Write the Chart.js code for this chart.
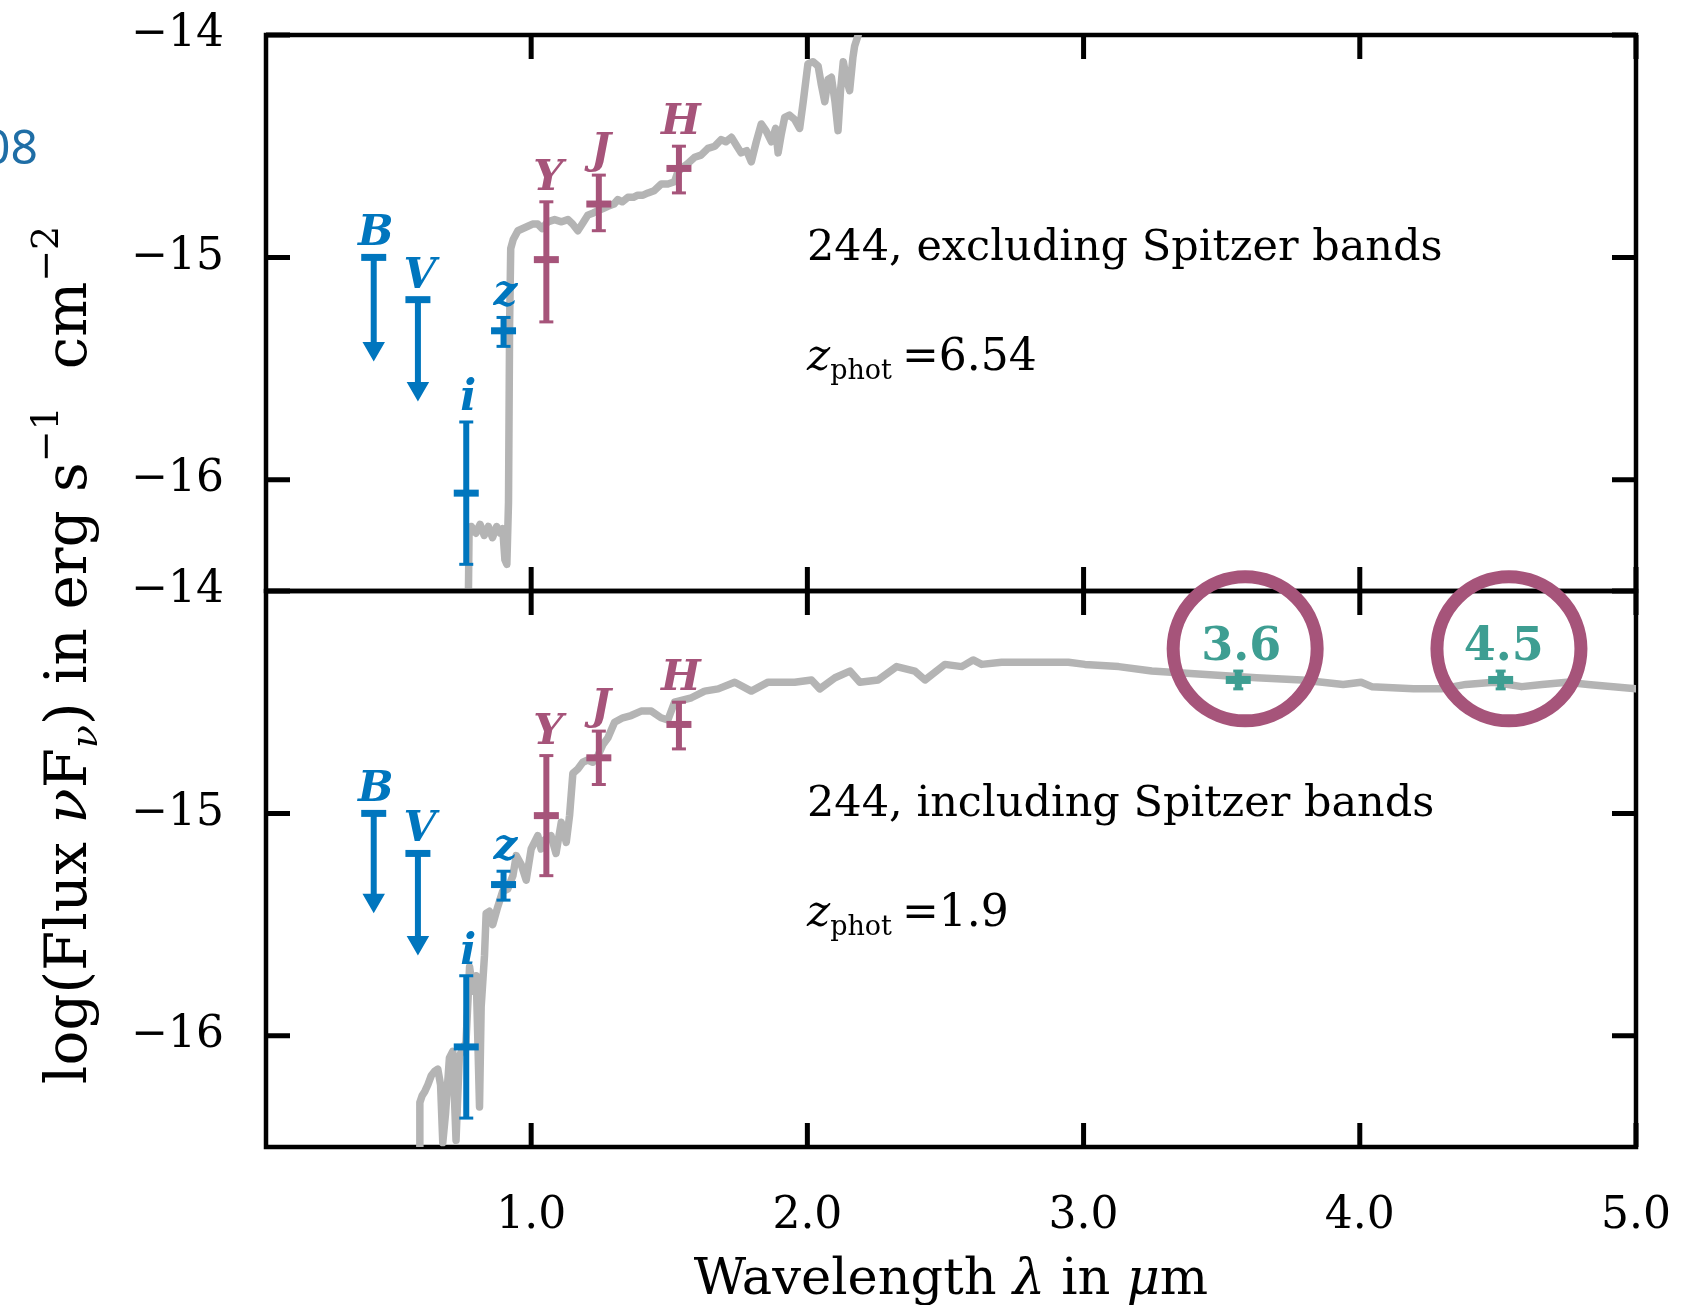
<!DOCTYPE html>
<html>
<head>
<meta charset="utf-8">
<title>SED fits of object 244</title>
<script src="https://cdn.jsdelivr.net/npm/chart.js@4.4.1/dist/chart.umd.min.js"></script>
<style>
  body { margin: 0; background: #fff; }
  #wrap { position: relative; width: 1695px; height: 1305px; overflow: hidden; background: #fff; }
  #wrap canvas { position: absolute; left: 0; top: 0; }
</style>
</head>
<body>
<div id="wrap">
  <canvas id="topPanel" width="1695" height="1305"></canvas>
  <canvas id="bottomPanel" width="1695" height="1305"></canvas>
</div>
<script>
// Axis ticks
const xTicks = [1, 2, 3, 4, 5];
const yTicks = [-14, -15, -16];

// Ground-based bands (wavelength in micron)
const bandNames = ["B", "V", "i", "z", "Y", "J", "H"];
const bandWave = [0.43, 0.59, 0.765, 0.9, 1.055, 1.245, 1.535];
const bandUpperLimit = [true, true, false, false, false, false, false];

// Upper panel: fit excluding Spitzer bands (low = arrow head for limits)
const topFlux = [-15.0, -15.19, -16.06, -15.33, -15.01, -14.76, -14.6];
const topLow = [-15.41, -15.59, -16.38, -15.4, -15.29, -14.88, -14.71];
const topHigh = [-15.0, -15.19, -15.74, -15.27, -14.75, -14.63, -14.5];

// Lower panel: fit including Spitzer bands
const botFlux = [-15.0, -15.18, -16.05, -15.32, -15.01, -14.75, -14.6];
const botLow = [-15.39, -15.58, -16.37, -15.39, -15.28, -14.87, -14.71];
const botHigh = [-15.0, -15.18, -15.73, -15.26, -14.74, -14.63, -14.5];

// Spitzer IRAC points
const iracNames = ["3.6", "4.5"];
const iracWave = [3.56, 4.51];
const iracFlux = [-14.4, -14.4];
const iracErr = [0.04, 0.04];
const circleWave = [3.585, 4.54];
const circleFlux = [-14.26, -14.26];

const panelTitles = ["244, excluding Spitzer bands", "244, including Spitzer bands"];
const zPhot = ["6.54", "1.9"];

// Best-fit template, z = 6.54
const specTopWave = [0.771, 0.775, 0.783, 0.8, 0.815, 0.83, 0.845, 0.86, 0.875, 0.888,
  0.897, 0.905, 0.912, 0.918, 0.922, 0.926, 0.935, 0.952, 0.97, 0.988,
  1.005, 1.024, 1.04, 1.06, 1.085, 1.11, 1.133, 1.15, 1.169, 1.19,
  1.205, 1.225, 1.242, 1.26, 1.278, 1.3, 1.314, 1.33, 1.35, 1.37,
  1.386, 1.405, 1.423, 1.445, 1.471, 1.495, 1.519, 1.53, 1.543, 1.565,
  1.592, 1.615, 1.64, 1.665, 1.688, 1.705, 1.725, 1.745, 1.76, 1.78,
  1.797, 1.815, 1.833, 1.85, 1.87, 1.885, 1.894, 1.905, 1.918, 1.935,
  1.954, 1.972, 1.985, 2.002, 2.02, 2.039, 2.05, 2.063, 2.075, 2.087,
  2.1, 2.111, 2.12, 2.13, 2.142, 2.153, 2.165, 2.171, 2.184, 2.2];
const specTopFlux = [-16.75, -16.25, -16.21, -16.24, -16.2, -16.25, -16.21, -16.26, -16.21, -16.24,
  -16.22, -16.36, -16.38, -16.1, -15.3, -14.96, -14.92, -14.88, -14.87, -14.86,
  -14.85, -14.85, -14.87, -14.84, -14.83, -14.84, -14.83, -14.85, -14.88, -14.84,
  -14.81, -14.8, -14.79, -14.78, -14.77, -14.76, -14.74, -14.75, -14.73, -14.73,
  -14.72, -14.72, -14.71, -14.7, -14.67, -14.67, -14.66, -14.62, -14.6, -14.58,
  -14.55, -14.54, -14.51, -14.5, -14.47, -14.48, -14.46, -14.5, -14.53, -14.52,
  -14.57, -14.48, -14.4, -14.43, -14.48, -14.42, -14.53, -14.45, -14.37, -14.36,
  -14.38, -14.42, -14.3, -14.13, -14.12, -14.14, -14.22, -14.3, -14.2, -14.19,
  -14.3, -14.43, -14.25, -14.12, -14.2, -14.25, -14.1, -14.05, -14.0, -13.9];

// Best-fit template, z = 1.9
const specBotWave = [0.595, 0.597, 0.605, 0.615, 0.626, 0.638, 0.65, 0.662, 0.672, 0.68,
  0.69, 0.704, 0.716, 0.728, 0.74, 0.752, 0.764, 0.777, 0.789, 0.801,
  0.813, 0.819, 0.831, 0.837, 0.849, 0.861, 0.879, 0.897, 0.915, 0.934,
  0.946, 0.964, 0.982, 1.0, 1.024, 1.036, 1.048, 1.072, 1.09, 1.109,
  1.127, 1.139, 1.151, 1.169, 1.187, 1.205, 1.223, 1.242, 1.26, 1.278,
  1.302, 1.332, 1.362, 1.398, 1.435, 1.47, 1.495, 1.519, 1.58, 1.628,
  1.677, 1.737, 1.797, 1.858, 1.954, 2.015, 2.045, 2.1, 2.154, 2.19,
  2.256, 2.323, 2.389, 2.426, 2.498, 2.559, 2.6, 2.631, 2.703, 2.824,
  2.945, 3.005, 3.127, 3.247, 3.373, 3.5, 3.626, 3.79, 3.94, 4.005,
  4.043, 4.194, 4.295, 4.384, 4.485, 4.586, 4.66, 4.75, 4.826, 5.0];
const specBotFlux = [-16.6, -16.3, -16.27, -16.25, -16.22, -16.18, -16.16, -16.15, -16.22, -16.48,
  -16.35, -16.1, -16.07, -16.47, -16.09, -16.06, -16.03, -15.69, -15.8, -15.73,
  -16.32, -15.87, -15.64, -15.45, -15.44, -15.5, -15.42, -15.35, -15.34, -15.28,
  -15.19, -15.23, -15.3, -15.16, -15.1, -15.16, -15.12, -15.1, -15.18, -15.04,
  -15.13, -15.01, -14.82, -14.8, -14.77, -14.76, -14.77, -14.74, -14.69, -14.66,
  -14.59, -14.57, -14.56, -14.54, -14.54, -14.57, -14.58, -14.5, -14.48, -14.45,
  -14.44, -14.41, -14.45, -14.41, -14.41, -14.4, -14.44, -14.39, -14.36, -14.41,
  -14.4, -14.34, -14.36, -14.4, -14.33, -14.34, -14.31, -14.33, -14.32, -14.32,
  -14.32, -14.33, -14.34, -14.36, -14.37, -14.38, -14.39, -14.4, -14.42, -14.41,
  -14.43, -14.44, -14.44, -14.42, -14.41, -14.43, -14.42, -14.41, -14.42, -14.44];

const BLUE = "#0076be";
const PLUM = "#a6547a";
const TEAL = "#3e9e92";
const GREY = "#b4b4b4";
const SERIF = '"DejaVu Serif", serif';

Chart.defaults.font.family = SERIF;

function pts(xs, ys) {
  return xs.map((x, i) => ({ x: x, y: ys[i] }));
}

function bandColor(i) {
  return bandWave[i] < 1 ? BLUE : PLUM;
}

function spectrumSet(xs, ys) {
  return {
    data: pts(xs, ys),
    showLine: true,
    borderColor: GREY,
    borderWidth: 7.5,
    borderJoinStyle: "round",
    borderCapStyle: "round",
    pointRadius: 0,
    order: 5,
  };
}

function photometrySets(flux, low, high) {
  const sets = bandNames.map((name, i) => {
    const c = bandColor(i);
    const lim = bandUpperLimit[i];
    return {
      data: [{ x: bandWave[i], y: high[i] }, { x: bandWave[i], y: low[i] }],
      showLine: true,
      borderColor: c,
      borderWidth: 6,
      pointStyle: lim ? ["line", "triangle"] : "line",
      pointRadius: lim ? [12.5, 11] : 7,
      pointRotation: lim ? [0, 180] : 0,
      pointBorderWidth: lim ? [7, 2] : 3,
      pointBorderColor: c,
      pointBackgroundColor: c,
      order: 2,
    };
  });
  // horizontal bar at each measured value
  const measured = bandNames.map((n, i) => i).filter((i) => !bandUpperLimit[i]);
  sets.push({
    data: measured.map((i) => ({ x: bandWave[i], y: flux[i] })),
    pointStyle: "line",
    pointRadius: 12.5,
    pointBorderWidth: 7,
    pointBorderColor: measured.map(bandColor),
    order: 1,
  });
  return sets;
}

function iracSets() {
  const sets = iracWave.map((w, i) => ({
    data: [{ x: w, y: iracFlux[i] + iracErr[i] }, { x: w, y: iracFlux[i] - iracErr[i] }],
    showLine: true,
    borderColor: TEAL,
    borderWidth: 7,
    pointStyle: "line",
    pointRadius: 5,
    pointBorderWidth: 3,
    pointBorderColor: TEAL,
    order: 2,
  }));
  sets.push({
    data: pts(iracWave, iracFlux),
    pointStyle: "line",
    pointRadius: 12.5,
    pointBorderWidth: 8,
    pointBorderColor: TEAL,
    order: 1,
  });
  sets.push({
    data: pts(circleWave, circleFlux),
    pointStyle: "circle",
    pointRadius: 72,
    pointBorderWidth: 13,
    pointBorderColor: PLUM,
    pointBackgroundColor: "rgba(0,0,0,0)",
    clip: false,
    order: 0,
  });
  return sets;
}

function panelOptions(padding, xHeight, showXLabels) {
  return {
    responsive: false,
    animation: false,
    events: [],
    layout: { padding: padding, autoPadding: false },
    plugins: { legend: { display: false }, tooltip: { enabled: false } },
    scales: {
      x: {
        type: "linear",
        min: 0.04,
        max: 5.0,
        afterBuildTicks: (s) => { s.ticks = xTicks.map((v) => ({ value: v })); },
        afterFit: (s) => { s.height = xHeight; s.paddingLeft = 0; s.paddingRight = 0; },
        grid: { display: false, drawTicks: false },
        border: { display: false },
        ticks: {
          display: showXLabels,
          padding: 43,
          color: "#000",
          maxRotation: 0,
          autoSkip: false,
          font: { family: SERIF, size: 44 },
          callback: (v) => Number(v).toFixed(1),
        },
      },
      y: {
        type: "linear",
        min: -16.5,
        max: -14,
        afterBuildTicks: (s) => { s.ticks = yTicks.map((v) => ({ value: v })); },
        afterFit: (s) => { s.width = 266; s.paddingTop = 0; s.paddingBottom = 0; },
        grid: { display: false, drawTicks: false },
        border: { display: false },
        ticks: {
          padding: 42,
          color: "#000",
          font: { family: SERIF, size: 44 },
          callback: (v) => "\u2212" + Math.abs(v),
        },
      },
    },
  };
}

// box with inward ticks on all four sides
const framePlugin = {
  id: "frame",
  beforeDatasetsDraw(chart) {
    const { ctx, chartArea: a, scales } = chart;
    ctx.save();
    ctx.strokeStyle = "#000";
    ctx.lineWidth = 4.5;
    ctx.strokeRect(a.left, a.top, a.right - a.left, a.bottom - a.top);
    ctx.lineWidth = 5;
    ctx.beginPath();
    xTicks.forEach((v) => {
      const px = scales.x.getPixelForValue(v);
      ctx.moveTo(px, a.top); ctx.lineTo(px, a.top + 24);
      ctx.moveTo(px, a.bottom); ctx.lineTo(px, a.bottom - 24);
    });
    yTicks.forEach((v) => {
      const py = scales.y.getPixelForValue(v);
      ctx.moveTo(a.left, py); ctx.lineTo(a.left + 24, py);
      ctx.moveTo(a.right, py); ctx.lineTo(a.right - 24, py);
    });
    ctx.stroke();
    ctx.restore();
  },
};

function runsWidth(ctx, runs) {
  let w = 0;
  runs.forEach((r) => { ctx.font = r.font; w += ctx.measureText(r.text).width; });
  return w;
}

function drawRuns(ctx, runs, x, y) {
  let cx = x;
  runs.forEach((r) => {
    ctx.font = r.font;
    ctx.fillText(r.text, cx, y + (r.dy || 0));
    cx += ctx.measureText(r.text).width + (r.gap || 0);
  });
}

function drawBandLabels(chart, high) {
  const { ctx, scales } = chart;
  ctx.save();
  ctx.textAlign = "center";
  ctx.textBaseline = "alphabetic";
  ctx.font = "bold italic 42px " + SERIF;
  bandNames.forEach((n, i) => {
    ctx.fillStyle = bandColor(i);
    ctx.fillText(n, scales.x.getPixelForValue(bandWave[i]) + 2, scales.y.getPixelForValue(high[i]) - 12);
  });
  ctx.restore();
}

function drawPanelNote(chart, title, z) {
  const { ctx, chartArea: a } = chart;
  ctx.save();
  ctx.fillStyle = "#000";
  ctx.textAlign = "left";
  ctx.textBaseline = "alphabetic";
  ctx.font = "43px " + SERIF;
  ctx.fillText(title, a.left + 541, a.top + 225);
  drawRuns(ctx, [
    { text: "z", font: "italic 44px " + SERIF },
    { text: "phot", font: "27px " + SERIF, dy: 9, gap: 10 },
    { text: "=" + z, font: "44px " + SERIF },
  ], a.left + 541, a.top + 335);
  ctx.restore();
}

new Chart(document.getElementById("topPanel"), {
  type: "scatter",
  data: {
    datasets: [spectrumSet(specTopWave, specTopFlux)].concat(photometrySets(topFlux, topLow, topHigh)),
  },
  options: panelOptions({ top: 35, right: 59, bottom: 714, left: 0 }, 0, false),
  plugins: [framePlugin, {
    id: "topText",
    afterDraw(chart) {
      const ctx = chart.ctx;
      drawBandLabels(chart, topHigh);
      drawPanelNote(chart, panelTitles[0], zPhot[0]);

      // stray caption fragment at the left edge
      ctx.save();
      ctx.fillStyle = "#1f6ea6";
      ctx.textAlign = "right";
      ctx.font = '48px "Noto Sans", sans-serif';
      ctx.fillText("08", 38, 164);
      ctx.restore();

      // y-axis title, shared by both panels
      const runs = [
        { text: "log(Flux ", font: "58px " + SERIF },
        { text: "\u03bd", font: "italic 58px " + SERIF },
        { text: "F", font: "58px " + SERIF },
        { text: "\u03bd", font: "italic 38px " + SERIF, dy: 11 },
        { text: ") in erg s", font: "58px " + SERIF },
        { text: "\u22121", font: "38px " + SERIF, dy: -28 },
        { text: "  cm", font: "58px " + SERIF },
        { text: "\u22122", font: "38px " + SERIF, dy: -28 },
      ];
      ctx.save();
      ctx.fillStyle = "#000";
      ctx.textBaseline = "alphabetic";
      ctx.translate(86, 655);
      ctx.rotate(-Math.PI / 2);
      drawRuns(ctx, runs, -runsWidth(ctx, runs) / 2, 0);
      ctx.restore();
    },
  }],
});

new Chart(document.getElementById("bottomPanel"), {
  type: "scatter",
  data: {
    datasets: [spectrumSet(specBotWave, specBotFlux)]
      .concat(photometrySets(botFlux, botLow, botHigh))
      .concat(iracSets()),
  },
  options: panelOptions({ top: 591, right: 59, bottom: 0, left: 0 }, 158, true),
  plugins: [framePlugin, {
    id: "bottomText",
    afterDraw(chart) {
      const { ctx, scales } = chart;
      drawBandLabels(chart, botHigh);
      drawPanelNote(chart, panelTitles[1], zPhot[1]);

      ctx.save();
      ctx.fillStyle = TEAL;
      ctx.textAlign = "center";
      ctx.font = "bold 46px " + SERIF;
      iracNames.forEach((n, i) => {
        ctx.fillText(n, scales.x.getPixelForValue(iracWave[i]) + 3,
          scales.y.getPixelForValue(iracFlux[i] + iracErr[i]) - 11);
      });
      ctx.restore();

      // x-axis title
      const runs = [
        { text: "Wavelength ", font: "51px " + SERIF },
        { text: "\u03bb", font: "italic 51px " + SERIF },
        { text: " in ", font: "51px " + SERIF },
        { text: "\u03bc", font: "italic 51px " + SERIF },
        { text: "m", font: "51px " + SERIF },
      ];
      const a = chart.chartArea;
      ctx.save();
      ctx.fillStyle = "#000";
      ctx.textBaseline = "alphabetic";
      drawRuns(ctx, runs, (a.left + a.right) / 2 - runsWidth(ctx, runs) / 2, 1294);
      ctx.restore();
    },
  }],
});
</script>
</body>
</html>
